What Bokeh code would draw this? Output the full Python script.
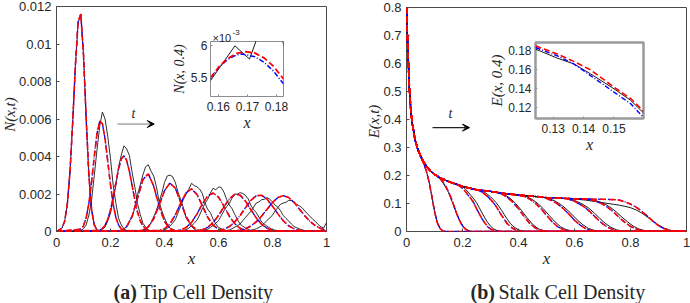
import math
from bokeh.plotting import figure
from bokeh.models import Range1d, FixedTicker, Label, Arrow, VeeHead
from bokeh.embed import file_html
from bokeh.resources import INLINE

# ---------------- tick data ----------------
X_TICKS = [0, 0.2, 0.4, 0.6, 0.8, 1]
X_TICK_LABELS = ["0", "0.2", "0.4", "0.6", "0.8", "1"]
N_Y_TICKS = [0, 0.002, 0.004, 0.006, 0.008, 0.01, 0.012]
N_Y_TICK_LABELS = ["0", "0.002", "0.004", "0.006", "0.008", "0.01", "0.012"]
E_Y_TICKS = [0, 0.1, 0.2, 0.3, 0.4, 0.5, 0.6, 0.7, 0.8]
E_Y_TICK_LABELS = ["0", "0.1", "0.2", "0.3", "0.4", "0.5", "0.6", "0.7", "0.8"]
NI_X_TICKS = [0.16, 0.17, 0.18]
NI_X_TICK_LABELS = ["0.16", "0.17", "0.18"]
NI_Y_TICKS = [0.0055, 0.006]
NI_Y_TICK_LABELS = ["5.5", "6"]
EI_X_TICKS = [0.13, 0.14, 0.15]
EI_X_TICK_LABELS = ["0.13", "0.14", "0.15"]
EI_Y_TICKS = [0.12, 0.14, 0.16, 0.18]
EI_Y_TICK_LABELS = ["0.12", "0.14", "0.16", "0.18"]

# ---------------- N(x,t): tip cell density (values in 1e-5) ----------------
N_RED_START = [0.02, 0.09, 0.16, 0.22, 0.28, 0.34, 0.40, 0.46, 0.54, 0.60]
N_RED_STEP = [0.01, 0.01, 0.01, 0.02, 0.02, 0.02, 0.02, 0.02, 0.02, 0.02]
N_RED = [
    [17, 54, 144, 319, 584, 885, 1120, 1160, 942, 600, 298, 115, 35, 8, 1],
    [12, 31, 74, 151, 265, 401, 523, 589, 575, 493, 373, 248, 145, 75, 34, 14, 5, 2],
    [6, 16, 34, 66, 116, 183, 261, 335, 387, 404, 379, 321, 245, 169, 104, 58, 29, 13, 5],
    [1, 6, 25, 80, 177, 277, 308, 242, 135, 53, 15, 3, 0],
    [0, 2, 7, 25, 68, 140, 218, 258, 231, 156, 80, 31, 9, 2, 0],
    [0, 1, 4, 15, 40, 88, 151, 207, 227, 198, 138, 76, 34, 12, 3, 1, 0],
    [0, 1, 2, 8, 21, 48, 93, 146, 190, 205, 183, 135, 82, 42, 17, 6, 2, 0],
    [0, 0, 1, 3, 9, 22, 47, 85, 131, 174, 198, 194, 162, 116, 72, 38, 17, 7, 2, 0],
    [0, 1, 2, 5, 12, 26, 51, 85, 127, 166, 191, 193, 172, 135, 94, 57, 30, 14, 6, 2, 0],
    [0, 0, 1, 3, 7, 15, 29, 52, 83, 119, 155, 181, 191, 181, 155, 119, 83, 52, 29, 15, 7],
]
N_BLACK_START = [0.02, 0.09, 0.16, 0.22, 0.28, 0.36, 0.42, 0.48, 0.56, 0.64]
N_BLACK_STEP = [0.01, 0.01, 0.01, 0.01, 0.01, 0.01, 0.01, 0.01, 0.01, 0.01]
N_BLACK = [
    [17, 55, 142, 320, 586, 883, 1112, 1158, 944, 598, 300, 116, 36, 8, 0],
    [4, 15, 35, 88, 168, 300, 436, 560, 637, 600, 505, 388, 246, 150, 70, 35, 12, 6],
    [5, 12, 24, 57, 98, 172, 246, 345, 408, 457, 440, 405, 316, 238, 149, 92, 44, 24, 9, 4],
    [1, 2, 6, 14, 28, 55, 80, 126, 196, 248, 302, 345, 356, 322, 296, 240, 160, 110, 72,
     40, 18, 12, 5, 1, 0],
    [0, 0, 1, 3, 7, 14, 24, 46, 79, 112, 158, 205, 262, 296, 301, 292, 262, 210, 170, 125,
     72, 50, 28, 13, 5, 3, 1],
    [1, 2, 3, 5, 8, 17, 29, 44, 63, 100, 136, 172, 198, 225, 257, 245, 239, 226, 203, 152,
     118, 100, 66, 40, 22, 15, 9, 5, 2, 1, 0],
    [0, 0, 1, 2, 4, 7, 10, 18, 30, 44, 60, 88, 121, 150, 172, 205, 231, 222, 238, 235, 210,
     172, 141, 122, 92, 64, 40, 28, 19, 11, 5, 3, 2, 1, 0],
    [0, 0, 0, 0, 1, 3, 6, 9, 12, 22, 32, 44, 58, 84, 110, 132, 150, 178, 199, 200, 207, 203,
     192, 174, 140, 116, 100, 76, 50, 38, 28, 19, 10, 7, 5, 3, 1, 0, 0],
    [0, 0, 0, 0, 1, 3, 5, 6, 8, 15, 23, 31, 40, 58, 75, 92, 108, 130, 152, 158, 170, 172,
     181, 172, 158, 140, 130, 110, 85, 70, 56, 40, 26, 20, 14, 9, 5, 3, 2, 1, 0],
    [0, 0, 0, 0, 1, 2, 3, 5, 7, 10, 14, 22, 30, 44, 60, 72, 88, 110, 128, 146, 152, 156,
     166, 165, 158, 144, 137, 126, 109, 94, 79, 64, 52, 36, 24, 20, 48],
]

# inset N(x, 0.4), values in 1e-3
NI_BLACK_X = [0.1573, 0.1657, 0.1707, 0.1732, 0.1760, 0.1800, 0.1826]
NI_BLACK = [5.459, 5.989, 5.788, 6.09, 6.40, 6.35, 5.99]
NI_RED_X = [0.1573, 0.1602, 0.1631, 0.1662, 0.1694, 0.1726, 0.1757, 0.1790, 0.1824]
NI_RED = [5.50, 5.67, 5.79, 5.875, 5.90, 5.878, 5.805, 5.675, 5.485]
NI_BLUE_X = [0.1573, 0.1602, 0.1631, 0.1662, 0.1683, 0.1726, 0.1757, 0.1790, 0.1824]
NI_BLUE = [5.485, 5.659, 5.779, 5.85, 5.864, 5.822, 5.739, 5.602, 5.409]

# ---------------- E(x,t): stalk cell density ----------------
E_ENV_X = [0, 0.005, 0.01, 0.015, 0.02, 0.03, 0.04, 0.05, 0.06, 0.07, 0.08, 0.10,
           0.12, 0.14, 0.16, 0.18, 0.20, 0.25, 0.30, 0.35, 0.40, 0.45, 0.50, 0.55,
           0.60, 0.65, 0.70, 0.75, 0.80]
E_ENV = [0.80, 0.64, 0.52, 0.44, 0.39, 0.33, 0.295, 0.27, 0.25, 0.235, 0.222, 0.204,
         0.192, 0.183, 0.175, 0.168, 0.161, 0.149, 0.143, 0.136, 0.130, 0.126, 0.121, 0.119,
         0.117, 0.116, 0.115, 0.114, 0.111]
E_RED_START = [0.06, 0.12, 0.19, 0.26, 0.32, 0.40, 0.48, 0.56, 0.64, 0.74]
E_RED_STEP = [0.01, 0.01, 0.01, 0.01, 0.02, 0.02, 0.02, 0.02, 0.02, 0.02]
E_RED = [
    [0.246, 0.219, 0.180, 0.128, 0.072, 0.031, 0.010, 0.002, 0.0],
    [0.190, 0.178, 0.161, 0.142, 0.118, 0.090, 0.062, 0.038, 0.020, 0.009, 0.003, 0.0],
    [0.162, 0.154, 0.143, 0.130, 0.118, 0.103, 0.082, 0.063, 0.045, 0.030, 0.017, 0.009, 0.005, 0.0015, 0.0],
    [0.146, 0.140, 0.133, 0.125, 0.114, 0.103, 0.090, 0.073, 0.057, 0.042, 0.028, 0.018, 0.011, 0.006, 0.0027, 0.001, 0.0],
    [0.140, 0.134, 0.122, 0.104, 0.081, 0.054, 0.029, 0.0125, 0.004, 0.0],
    [0.130, 0.125, 0.116, 0.101, 0.082, 0.058, 0.035, 0.017, 0.0065, 0.0017, 0.0],
    [0.123, 0.118, 0.110, 0.098, 0.082, 0.062, 0.040, 0.023, 0.0105, 0.0036, 0.0003, 0.0],
    [0.118, 0.115, 0.108, 0.097, 0.084, 0.066, 0.046, 0.028, 0.014, 0.0058, 0.0017, 0.0],
    [0.116, 0.113, 0.107, 0.098, 0.085, 0.069, 0.050, 0.0325, 0.018, 0.0086, 0.0032, 0.0005, 0.0],
    [0.114, 0.112, 0.106, 0.098, 0.087, 0.072, 0.055, 0.037, 0.021, 0.010, 0.004, 0.001, 0.0],
]
E_BLACK_START = [0.06, 0.12, 0.20, 0.27, 0.33, 0.41, 0.49, 0.57, 0.65, 0.60]
E_BLACK_STEP = [0.01, 0.01, 0.01, 0.01, 0.02, 0.02, 0.02, 0.02, 0.02, 0.02]
E_BLACK = [
    [0.246, 0.219, 0.181, 0.129, 0.073, 0.032, 0.011, 0.002, 0.0],
    [0.187, 0.174, 0.158, 0.140, 0.114, 0.088, 0.062, 0.040, 0.022, 0.010, 0.004, 0.0],
    [0.160, 0.152, 0.141, 0.129, 0.117, 0.103, 0.085, 0.066, 0.048, 0.032, 0.019, 0.010, 0.005, 0.002, 0.0],
    [0.145, 0.139, 0.132, 0.124, 0.114, 0.103, 0.090, 0.075, 0.059, 0.044, 0.030, 0.019, 0.012, 0.006, 0.003, 0.001, 0.0],
    [0.138, 0.131, 0.119, 0.100, 0.076, 0.050, 0.026, 0.010, 0.003, 0.0],
    [0.129, 0.124, 0.114, 0.099, 0.080, 0.057, 0.035, 0.017, 0.007, 0.002, 0.0],
    [0.122, 0.117, 0.109, 0.097, 0.081, 0.062, 0.041, 0.024, 0.011, 0.004, 0.001, 0.0],
    [0.118, 0.114, 0.107, 0.097, 0.084, 0.067, 0.047, 0.029, 0.015, 0.006, 0.002, 0.0],
    [0.115, 0.112, 0.106, 0.097, 0.085, 0.069, 0.051, 0.034, 0.019, 0.009, 0.0035, 0.0007, 0.0],
    [0.116, 0.114, 0.112, 0.109, 0.106, 0.103, 0.100, 0.097, 0.094, 0.090, 0.085, 0.077,
     0.066, 0.052, 0.037, 0.023, 0.012, 0.005, 0.001, 0.0],
]

# inset E(x, 0.4)
EI_X = [0.1242, 0.1313, 0.1368, 0.1423, 0.1500, 0.1555, 0.1597]
EI_BLACK = [0.181, 0.1717, 0.1655, 0.1552, 0.1396, 0.1275, 0.1144]
EI_RED = [0.1845, 0.1759, 0.1682, 0.1593, 0.1413, 0.1293, 0.1165]
EI_BLUE = [0.1827, 0.1741, 0.1655, 0.1534, 0.1361, 0.1240, 0.1096]

# ---------------- styles ----------------
SANS = "Liberation Sans"
SERIF = "Liberation Serif"
BOX = "#4a4a4a"
TXT = "#262626"
RED, BLUE, BLACK = "#ff0000", "#0000ff", "#1a1a1a"


def grid(start, step, n):
    return [round(start + i * step, 4) for i in range(n)]


def n_curve(start, step, vals):
    xs = [0.0] + grid(start, step, len(vals))
    ys = [0.0] + [v * 1e-5 for v in vals]
    if xs[-1] < 1.0:
        xs.append(1.0)
        ys.append(0.0)
    return xs, ys


def e_curve(start, step, vals):
    xs = [x for x in E_ENV_X if x < start - 1e-9]
    ys = E_ENV[:len(xs)]
    xs = xs + grid(start, step, len(vals))
    ys = ys + list(vals)
    if xs[-1] < 1.0:
        xs.append(1.0)
        ys.append(0.0)
    return xs, ys


def make_fig(left, top, w, h, borders, xr, yr, xticks, xlabels, yticks, ylabels,
             font_size, xlabel=None, ylabel=None, title_size=(16, 15), box_width=1.0,
             box_color=BOX, tick_len=3, xl_std=6, yl_std=5, xt_std=0, yt_std=0):
    p = figure(width=w, height=h, x_range=Range1d(*xr), y_range=Range1d(*yr),
               output_backend="svg", toolbar_location=None, tools="",
               min_border_left=borders[0], min_border_right=borders[1],
               min_border_top=borders[2], min_border_bottom=borders[3],
               styles={"position": "absolute", "left": f"{left}px", "top": f"{top}px"})
    p.xgrid.visible = False
    p.ygrid.visible = False
    p.outline_line_color = box_color
    p.outline_line_width = box_width
    p.background_fill_color = "white"
    p.border_fill_color = None
    for ax, ticks, labels in ((p.xaxis[0], xticks, xlabels), (p.yaxis[0], yticks, ylabels)):
        ax.ticker = FixedTicker(ticks=ticks)
        ax.major_label_overrides = {t: l for t, l in zip(ticks, labels)}
        ax.major_label_text_font = SANS
        ax.major_label_text_font_size = f"{font_size}px"
        ax.major_label_text_color = TXT
        ax.axis_line_color = None
        ax.major_tick_in = tick_len
        ax.major_tick_out = 0
        ax.minor_tick_in = 0
        ax.minor_tick_out = 0
        ax.major_tick_line_color = box_color
        ax.axis_label_text_font = SERIF
        ax.axis_label_text_font_style = "italic"
        ax.axis_label_text_color = TXT
    p.xaxis[0].major_label_standoff = xl_std
    p.yaxis[0].major_label_standoff = yl_std
    if xlabel:
        p.xaxis[0].axis_label = xlabel
        p.xaxis[0].axis_label_text_font_size = f"{title_size[0]}px"
        p.xaxis[0].axis_label_standoff = xt_std
    if ylabel:
        p.yaxis[0].axis_label = ylabel
        p.yaxis[0].axis_label_text_font_size = f"{title_size[1]}px"
        p.yaxis[0].axis_label_standoff = yt_std
    return p


def t_label(p, x, y):
    p.add_layout(Label(x=x, y=y, text="t", text_font=SERIF, text_font_style="italic",
                       text_font_size="14px", text_align="center", text_baseline="middle",
                       text_color=TXT))


# ================= panel (a) =================
pa = make_fig(0, 0, 345, 303, (56, 19, 6, 72), (0, 1), (0, 0.012),
              X_TICKS, X_TICK_LABELS, N_Y_TICKS, N_Y_TICK_LABELS, 13)
pa.border_fill_color = "white"
for s, st, v in zip(N_BLACK_START, N_BLACK_STEP, N_BLACK):
    xs, ys = n_curve(s, st, v)
    pa.line(xs, ys, color=BLACK, line_width=0.9)
for s, st, v in zip(N_RED_START, N_RED_STEP, N_RED):
    xs, ys = n_curve(s, st, v)
    pa.line(xs, ys, color=BLUE, line_width=1.3, line_dash="5 2 1 2")
for s, st, v in zip(N_RED_START, N_RED_STEP, N_RED):
    xs, ys = n_curve(s, st, v)
    pa.line(xs, ys, color=RED, line_width=1.6, line_dash="6 3")
pa.add_layout(Arrow(end=VeeHead(size=7, fill_color="black", line_color="black"),
                    x_start=0.226, y_start=0.00573, x_end=0.362, y_end=0.00573,
                    line_color="#777777", line_width=1))
t_label(pa, 0.285, 0.0063)

# ================= panel (b) =================
pb = make_fig(345, 0, 345, 303, (61, 4, 7, 72), (0, 1), (0, 0.8),
              X_TICKS, X_TICK_LABELS, E_Y_TICKS, E_Y_TICK_LABELS, 13)
pb.border_fill_color = "white"
for s, st, v in zip(E_BLACK_START, E_BLACK_STEP, E_BLACK):
    xs, ys = e_curve(s, st, v)
    pb.line(xs, ys, color=BLACK, line_width=1.0)
for s, st, v in zip(E_RED_START, E_RED_STEP, E_RED):
    xs, ys = e_curve(s, st, v)
    pb.line(xs, ys, color=BLUE, line_width=1.3, line_dash="5 2 1 2")
for s, st, v in zip(E_RED_START, E_RED_STEP, E_RED):
    xs, ys = e_curve(s, st, v)
    pb.line(xs, ys, color=RED, line_width=1.6, line_dash="6 3")
pb.add_layout(Arrow(end=VeeHead(size=7, fill_color="black", line_color="black"),
                    x_start=0.093, y_start=0.371, x_end=0.225, y_end=0.371,
                    line_color="#222222", line_width=1.2))
t_label(pb, 0.157, 0.42)

# ================= inset (a) =================
pc = make_fig(160, 20, 130, 115, (50, 7, 21, 39), (0.1573, 0.1824), (0.005217, 0.006055),
              NI_X_TICKS, NI_X_TICK_LABELS, NI_Y_TICKS, NI_Y_TICK_LABELS, 12,
              "x", "N(x, 0.4)", (16, 14), box_width=1.0, box_color="#8c8c8c",
              tick_len=2, xl_std=5, yl_std=3, xt_std=0, yt_std=1)
pc.line(NI_BLACK_X, [v * 1e-3 for v in NI_BLACK], color=BLACK, line_width=1.0)
pc.line(NI_BLUE_X, [v * 1e-3 for v in NI_BLUE], color=BLUE, line_width=1.5, line_dash="5 2 1 2")
pc.line(NI_RED_X, [v * 1e-3 for v in NI_RED], color=RED, line_width=1.8, line_dash="6 3")

# ================= inset (b) =================
pd = make_fig(480, 20, 165, 135, (55, 2, 22, 37), (0.1242, 0.1597), (0.1086, 0.1879),
              EI_X_TICKS, EI_X_TICK_LABELS, EI_Y_TICKS, EI_Y_TICK_LABELS, 12,
              "x", "E(x, 0.4)", (16, 15), box_width=2.5, box_color="#9a9a9a",
              tick_len=2, xl_std=5, yl_std=4, xt_std=0, yt_std=0)
pd.line(EI_X, EI_BLACK, color=BLACK, line_width=1.0)
pd.line(EI_X, EI_BLUE, color=BLUE, line_width=1.4, line_dash="5 2 1 2")
pd.line(EI_X, EI_RED, color=RED, line_width=1.6, line_dash="6 3")

# ================= text overlay (axis titles, captions, exponent) =================
ov = figure(width=690, height=303, x_range=Range1d(0, 690), y_range=Range1d(303, 0),
            output_backend="svg", toolbar_location=None, tools="", min_border=0,
            x_axis_location=None, y_axis_location=None,
            styles={"position": "absolute", "left": "0px", "top": "0px", "z-index": "10",
                    "pointer-events": "none"})
ov.xgrid.visible = False
ov.ygrid.visible = False
ov.outline_line_color = None
ov.background_fill_color = None
ov.border_fill_color = None


def ov_text(text, x, y, size, font=SERIF, style="normal", align="left", baseline="middle",
            angle=0.0):
    ov.add_layout(Label(x=x, y=y, text=text, text_font=font, text_font_style=style,
                        text_font_size=f"{size}px", text_align=align,
                        text_baseline=baseline, text_color=TXT, angle=angle))


ov_text("N(x,t)", 9, 114, 15, style="italic", align="center", angle=math.pi / 2)
ov_text("E(x,t)", 373, 121, 15, style="italic", align="center", angle=math.pi / 2)
ov_text("x", 191, 258, 17, style="italic", align="center")
ov_text("x", 546, 258, 17, style="italic", align="center")
ov_text("(a)", 113, 291, 20, style="bold")
ov_text("Tip Cell Density", 140, 291, 20)
ov_text("(b)", 470, 291, 20, style="bold")
ov_text("Stalk Cell Density", 498, 291, 20)
ov_text("\u00d710", 212, 37, 11, font=SANS, baseline="alphabetic")
ov_text("-3", 232, 32, 8, font=SANS, baseline="alphabetic")

open("out.html", "w").write(file_html([pa, pb, pc, pd, ov], INLINE))
